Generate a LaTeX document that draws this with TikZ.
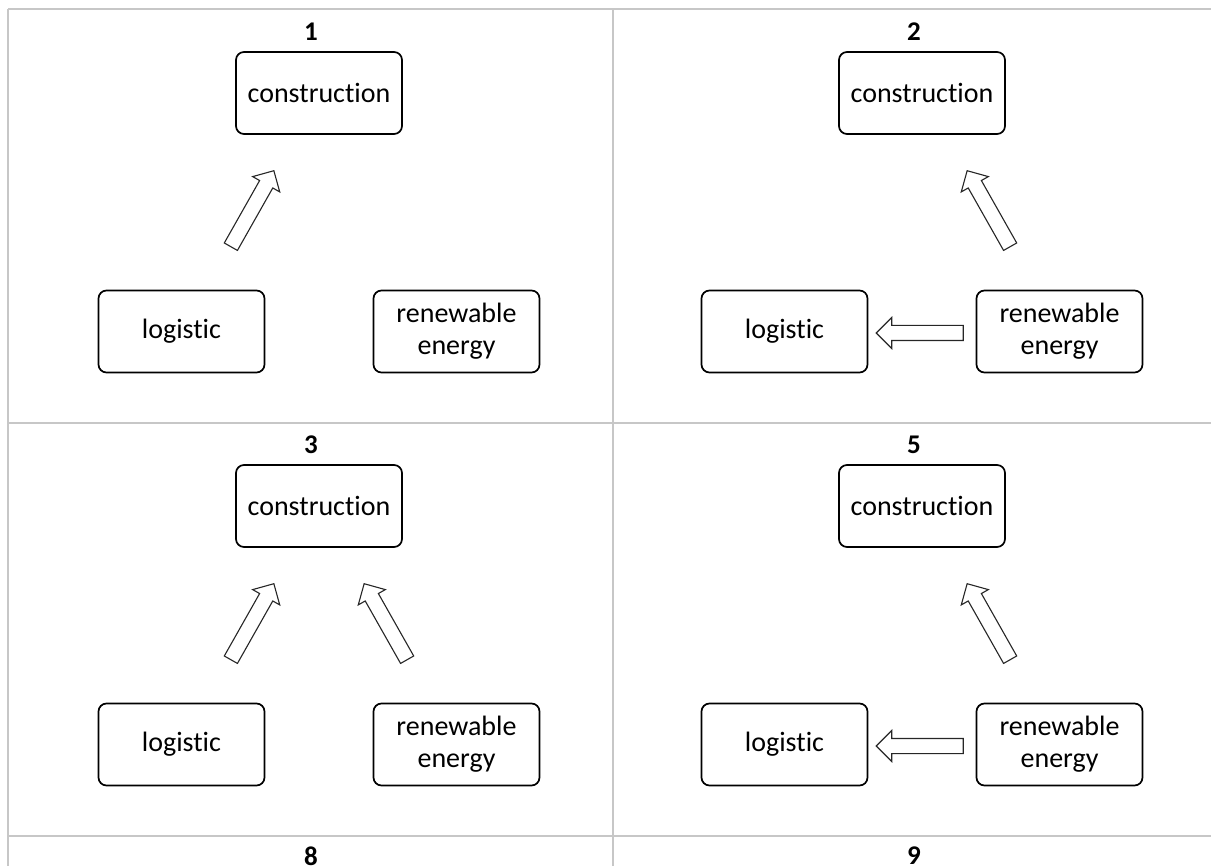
\documentclass[tikz,border=0pt]{standalone}
\usepackage{fontspec}
\setmainfont{Carlito}[Ligatures=NoCommon]
\usetikzlibrary{shapes.arrows,calc}

\tikzset{
  x=1pt, y=-1pt,
  topicbox/.style={draw=black, line width=1.7pt, rounded corners=8pt,
    minimum width=166pt, minimum height=82pt, inner sep=0pt, align=center,
    font=\fontsize{28}{32}\selectfont},
  paneltitle/.style={inner sep=0pt, font=\fontsize{27}{30}\selectfont\bfseries},
  hollowarrow/.style={single arrow, draw=black!85, line width=1.1pt, fill=white,
    inner xsep=0pt, inner ysep=7pt, single arrow head extend=8pt,
    single arrow head indent=0pt},
  gridline/.style={draw=black!22, line width=2.6pt}
}

% block arrow from one named coordinate to another
\newcommand\hollowarr[2]{%
  \path let \p1=($(#2)-(#1)$), \n1={atan2(\y1,\x1)}, \n2={veclen(\x1,\y1)} in
    node[hollowarrow, rotate=\n1, minimum height=\n2] at ($(#1)!0.5!(#2)$) {};}

% three topic boxes of one panel, with its number
\newcommand\topictrio[2]{%
  \node[paneltitle] (n#1) at (311,32) {#2};
  \node[topicbox] (c#1) at (319,93) {construction};
  \node[topicbox] (l#1) at (181.5,331.5) {logistic};
  \node[topicbox] (r#1) at (456.5,331.5) {renewable\\energy};}

\begin{document}
\begin{tikzpicture}
\useasboundingbox (0,0) rectangle (1211,866);
\clip (0,0) rectangle (1211,866);

% table grid
\draw[gridline] (8,9) -- (1211,9);
\draw[gridline] (8,423) -- (1211,423);
\draw[gridline] (8,836) -- (1211,836);
\draw[gridline] (8,9) -- (8,866);
\draw[gridline] (613,9) -- (613,866);

% panel 1
\begin{scope}
  \topictrio{1}{1}
  \coordinate (p1lt) at (229,250); \coordinate (p1lh) at (272,174);
  \hollowarr{p1lt}{p1lh}
\end{scope}

% panel 2
\begin{scope}[shift={(603,0)}]
  \topictrio{2}{2}
  \coordinate (p2rt) at (409,250); \coordinate (p2rh) at (366,174);
  \coordinate (p2ht) at (364,333); \coordinate (p2hh) at (277,333);
  \hollowarr{p2rt}{p2rh}
  \hollowarr{p2ht}{p2hh}
\end{scope}

% panel 3
\begin{scope}[shift={(0,413)}]
  \topictrio{3}{3}
  \coordinate (p3lt) at (229,250); \coordinate (p3lh) at (272,174);
  \coordinate (p3rt) at (409,250); \coordinate (p3rh) at (366,174);
  \hollowarr{p3lt}{p3lh}
  \hollowarr{p3rt}{p3rh}
\end{scope}

% panel 5
\begin{scope}[shift={(603,413)}]
  \topictrio{5}{5}
  \coordinate (p5rt) at (409,250); \coordinate (p5rh) at (366,174);
  \coordinate (p5ht) at (364,333); \coordinate (p5hh) at (277,333);
  \hollowarr{p5rt}{p5rh}
  \hollowarr{p5ht}{p5hh}
\end{scope}

% next row titles
\node[paneltitle] (n8) at (311,856) {8};
\node[paneltitle] (n9) at (914,856) {9};
\end{tikzpicture}
\end{document}
